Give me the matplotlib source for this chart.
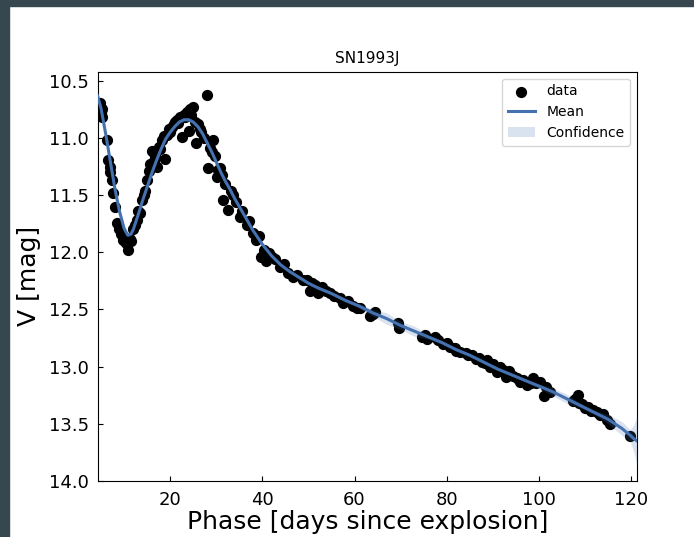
import numpy as np
import matplotlib
matplotlib.use("Agg")
import matplotlib.pyplot as plt
from matplotlib.patches import Rectangle

# observed V-band photometry (phase in days, V mag)
phase_obs = [4.3, 4.5, 4.7, 4.9, 5.1, 5.3, 5.2, 6.2, 6.6, 6.9, 7.0, 7.3, 7.5, 8.0, 8.4, 8.9,
             9.4, 9.8, 10.2, 10.5, 10.9, 11.2, 11.6, 12.0, 12.4, 12.7, 13.1, 13.5, 13.9, 14.3,
             14.6, 15.0, 15.4, 15.7, 16.0, 16.4, 16.8, 17.1, 17.5, 17.8, 18.2, 18.6, 18.9, 19.3,
             19.7, 20.0, 20.4, 20.8, 21.1, 21.5, 21.8, 22.2, 22.5, 22.9, 23.2, 23.6, 24.0, 24.3,
             24.6, 25.0, 25.3, 25.6, 26.0, 26.4, 26.8, 27.3, 27.9, 28.3, 28.6, 29.0, 29.4, 29.7,
             30.1, 30.4, 30.8, 31.2, 31.5, 32.0, 32.6, 33.1, 33.7, 34.2, 35.1, 35.6, 36.6, 37.2,
             38.0, 38.7, 39.3, 39.8, 40.4, 40.9, 41.5, 42.0, 42.8, 43.8, 44.6, 45.6, 46.7, 47.6,
             48.9, 49.6, 50.3, 50.8, 51.4, 52.0, 52.5, 52.9, 53.9, 54.7, 55.5, 56.8, 57.6, 58.6,
             59.7, 60.5, 61.2, 63.3, 64.0, 64.5, 69.5, 69.6, 74.6, 75.2, 75.7, 77.5, 78.2, 79.3,
             80.0, 80.7, 81.7, 82.1, 82.9, 84.2, 84.7, 85.5, 86.3, 87.0, 87.6, 88.2, 88.7, 89.4,
             90.1, 91.0, 91.5, 92.2, 92.8, 93.5, 94.3, 95.2, 95.8, 96.5, 97.4, 98.2, 98.7, 99.3,
             100.2, 101.0, 101.6, 102.3, 107.3, 107.8, 108.4, 108.7, 109.4, 110.0, 110.6, 111.4,
             111.8, 112.5, 113.2, 114.0, 114.7, 115.4, 119.8]
vmag_obs = [10.70, 10.72, 10.69, 10.74, 10.78, 10.82, 10.75, 11.02, 11.19, 11.25, 11.30, 11.37,
            11.48, 11.60, 11.74, 11.80, 11.84, 11.89, 11.88, 11.92, 11.98, 11.88, 11.90, 11.80,
            11.76, 11.72, 11.64, 11.66, 11.54, 11.50, 11.46, 11.37, 11.29, 11.23, 11.11, 11.20,
            11.16, 11.25, 11.08, 11.10, 11.02, 10.98, 11.18, 10.97, 10.92, 10.95, 10.90, 10.88,
            10.86, 10.84, 10.87, 10.82, 10.99, 10.80, 10.82, 10.77, 10.94, 10.75, 10.80, 10.73,
            10.86, 11.04, 10.88, 10.92, 10.95, 11.00, 10.62, 11.26, 11.09, 11.12, 11.02, 11.16,
            11.34, 11.28, 11.26, 11.32, 11.54, 11.40, 11.63, 11.46, 11.50, 11.56, 11.69, 11.64,
            11.76, 11.73, 11.83, 11.89, 11.86, 12.04, 11.98, 12.08, 12.01, 12.04, 12.06, 12.13,
            12.10, 12.18, 12.22, 12.20, 12.24, 12.24, 12.34, 12.27, 12.29, 12.36, 12.31, 12.30,
            12.34, 12.36, 12.38, 12.40, 12.44, 12.43, 12.47, 12.49, 12.49, 12.56, 12.54, 12.52,
            12.62, 12.66, 12.74, 12.72, 12.76, 12.74, 12.77, 12.80, 12.79, 12.83, 12.84, 12.86,
            12.87, 12.88, 12.90, 12.90, 12.93, 12.92, 12.96, 12.97, 12.94, 13.00, 12.98, 13.05,
            13.00, 13.03, 13.09, 13.04, 13.08, 13.10, 13.13, 13.12, 13.16, 13.14, 13.10, 13.14,
            13.13, 13.26, 13.18, 13.22, 13.30, 13.28, 13.25, 13.32, 13.33, 13.36, 13.35, 13.39,
            13.38, 13.40, 13.42, 13.41, 13.47, 13.50, 13.61]

# GP mean and confidence half-width
phase_gp = [4.24, 5, 6, 7, 8, 9, 10, 10.8, 11.5, 12, 13, 14, 15, 16, 17, 18, 19, 20, 21, 22,
            23, 24, 25, 26, 27, 28, 29, 30, 31, 32, 33, 34, 35, 36, 37, 38, 39, 40, 42, 44, 46,
            48, 50, 52, 55, 58, 61, 64, 67, 70, 73, 76, 79, 82, 85, 88, 91, 94, 97, 100, 103,
            106, 109, 112, 115, 118, 119.8, 120.6, 121.3]
mean_gp = [10.63, 10.74, 10.96, 11.20, 11.44, 11.64, 11.79, 11.85, 11.84, 11.80, 11.68, 11.55,
           11.43, 11.31, 11.20, 11.10, 11.01, 10.95, 10.90, 10.86, 10.84, 10.84, 10.86, 10.90,
           10.96, 11.04, 11.12, 11.21, 11.30, 11.38, 11.45, 11.53, 11.60, 11.67, 11.74, 11.81,
           11.87, 11.93, 12.03, 12.11, 12.17, 12.22, 12.27, 12.31, 12.36, 12.42, 12.47, 12.53,
           12.58, 12.64, 12.69, 12.74, 12.79, 12.85, 12.90, 12.96, 13.02, 13.07, 13.12, 13.17,
           13.22, 13.28, 13.34, 13.40, 13.46, 13.54, 13.60, 13.63, 13.65]
conf_gp = [0.04, 0.02, 0.015, 0.015, 0.015, 0.015, 0.015, 0.015, 0.015, 0.015, 0.015, 0.015,
           0.015, 0.015, 0.015, 0.015, 0.015, 0.015, 0.015, 0.015, 0.015, 0.015, 0.015, 0.015,
           0.015, 0.015, 0.015, 0.015, 0.015, 0.015, 0.015, 0.015, 0.015, 0.015, 0.015, 0.015,
           0.015, 0.015, 0.015, 0.015, 0.015, 0.015, 0.015, 0.015, 0.015, 0.015, 0.02, 0.03,
           0.05, 0.035, 0.045, 0.02, 0.015, 0.015, 0.015, 0.015, 0.015, 0.015, 0.015, 0.02,
           0.035, 0.04, 0.02, 0.02, 0.04, 0.06, 0.05, 0.12, 0.22]

blue = "#4471b0"

fig = plt.figure(figsize=(6.94, 5.37), dpi=100)
ax = fig.add_axes([0.1405, 0.1043, 0.7775, 0.7622])

ax.scatter(phase_obs, vmag_obs, s=50, color="black", label="data", zorder=2)
ax.plot(phase_gp, mean_gp, color=blue, lw=2.2, label="Mean", zorder=3)
lo = np.array(mean_gp) - np.array(conf_gp)
hi = np.array(mean_gp) + np.array(conf_gp)
ax.fill_between(phase_gp, lo, hi, color=blue, alpha=0.2, lw=0, label="Confidence", zorder=4)

ax.set_xlim(4.24, 121.3)
ax.set_ylim(14.0, 10.42)
ax.set_xticks([20, 40, 60, 80, 100, 120])
ax.set_yticks([10.5, 11.0, 11.5, 12.0, 12.5, 13.0, 13.5, 14.0])
ax.tick_params(direction="in", labelsize=13)
ax.tick_params(axis="x", pad=7)
ax.tick_params(axis="y", pad=6)

ax.set_title("SN1993J", fontsize=11)
ax.set_xlabel("Phase [days since explosion]", fontsize=18, labelpad=1)
ax.set_ylabel("V [mag]", fontsize=18, labelpad=6)
ax.legend(loc="upper right", fontsize=10)

# dark frame around the screenshot
frame = "#37474f"
fig.patches.append(Rectangle((0, 1 - 6 / 537), 1, 6 / 537, transform=fig.transFigure,
                             color=frame, zorder=10))
fig.patches.append(Rectangle((0, 0), 9 / 694, 1, transform=fig.transFigure,
                             color=frame, zorder=10))

fig.savefig("out.png", dpi=100)
